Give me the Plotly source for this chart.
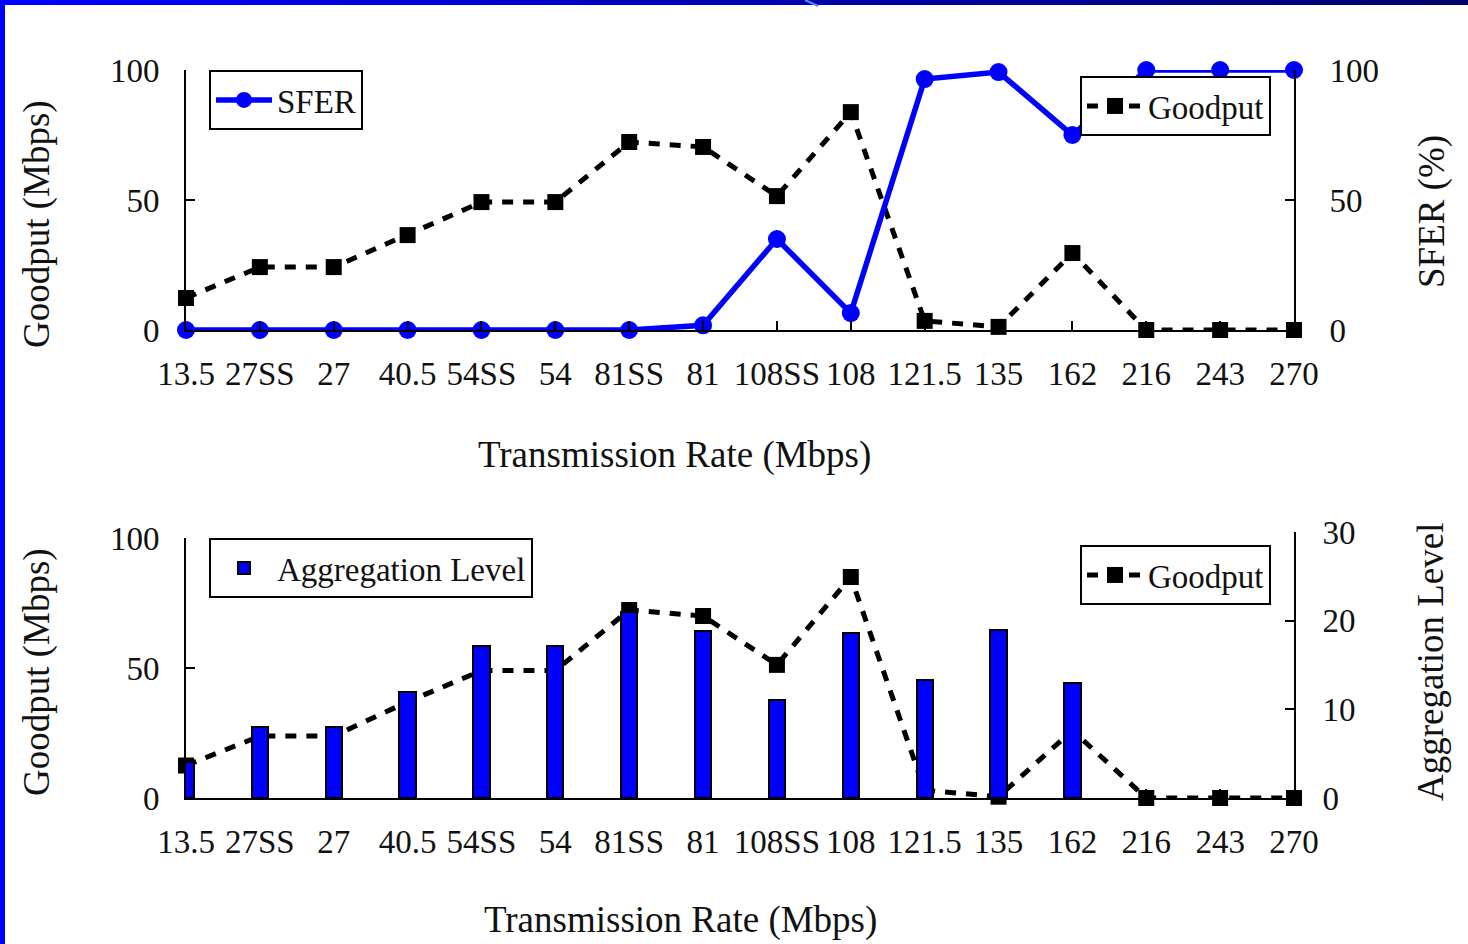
import plotly.graph_objects as go

W, H = 1468, 944

rates = ["13.5", "27SS", "27", "40.5", "54SS", "54", "81SS", "81", "108SS",
         "108", "121.5", "135", "162", "216", "243", "270"]
goodput_top = [12.3, 24.2, 24.2, 36.5, 49.2, 49.2, 72.3, 70.4, 51.5,
               83.8, 3.5, 1.2, 29.6, 0, 0, 0]
sfer = [0, 0, 0, 0, 0, 0, 0, 1.8, 35, 6.5, 96.5, 99.2, 75, 100, 100, 100]
goodput_bottom = [12.5, 23.8, 23.8, 37.0, 49.0, 49.0, 72.3, 70.0, 51.2,
                  85.0, 3.0, 0.5, 26.0, 0, 0, 0]
aggregation = [4.1, 8.0, 8.0, 12.0, 17.1, 17.1, 21.0, 18.8, 11.1,
               18.6, 13.3, 19.0, 13.0, 0, 0, 0]

FONT = "Liberation Serif"
BLUE = "#0000FF"
INK = "#111111"


def fx(px):
    return px / W


def fy(py):
    return 1 - py / H


fig = go.Figure()

# ---- top chart ----
fig.add_trace(go.Scatter(
    x=rates, y=goodput_top, name="Goodput", xaxis="x", yaxis="y",
    mode="lines+markers", legend="legend2",
    line=dict(color="black", width=5, dash="11px,10px"),
    marker=dict(symbol="square", size=16, color="black"),
    cliponaxis=False,
))
fig.add_trace(go.Scatter(
    x=rates, y=sfer, name="SFER", xaxis="x", yaxis="y2",
    mode="lines+markers", legend="legend",
    line=dict(color=BLUE, width=5.5),
    marker=dict(symbol="circle", size=18, color=BLUE),
    cliponaxis=False,
))

# ---- bottom chart ----
fig.add_trace(go.Scatter(
    x=rates, y=goodput_bottom, name="Goodput", xaxis="x2", yaxis="y3",
    mode="lines+markers", legend="legend4",
    line=dict(color="black", width=5, dash="11px,10px"),
    marker=dict(symbol="square", size=16, color="black"),
    cliponaxis=False,
))
fig.add_trace(go.Bar(
    x=rates, y=aggregation, name="Aggregation Level", xaxis="x2", yaxis="y4",
    legend="legend3", width=0.22,
    marker=dict(color=BLUE, line=dict(color="black", width=2)),
    cliponaxis=False,
))

tickfont = dict(family=FONT, size=33, color=INK)
axis_common = dict(
    showline=True, linecolor="black", linewidth=2, ticks="inside",
    tickcolor="black", tickwidth=2, ticklen=9, showgrid=False,
    zeroline=False, tickfont=tickfont, automargin=False,
)

xdom = [fx(186), fx(1294)]
fig.update_layout(
    width=W, height=H,
    margin=dict(l=0, r=0, t=0, b=0, pad=0, autoexpand=False),
    paper_bgcolor="white", plot_bgcolor="rgba(0,0,0,0)",
    bargap=0,
    xaxis=dict(domain=xdom, anchor="y", type="category",
               categoryorder="array", categoryarray=rates,
               range=[0, 15], ticklabelstandoff=13, **axis_common),
    yaxis=dict(domain=[fy(330), fy(70)], anchor="x", range=[0, 100],
               tickvals=[0, 50, 100], ticklabelstandoff=18, **axis_common),
    yaxis2=dict(overlaying="y", side="right", anchor="x", range=[0, 100],
                tickvals=[0, 50, 100], ticklabelstandoff=27, **axis_common),
    xaxis2=dict(domain=xdom, anchor="y3", type="category",
                categoryorder="array", categoryarray=rates,
                range=[0, 15], ticklabelstandoff=13, **axis_common),
    yaxis3=dict(domain=[fy(798), fy(538)], anchor="x2", range=[0, 100],
                tickvals=[0, 50, 100], ticklabelstandoff=18, **axis_common),
    yaxis4=dict(domain=[fy(798), fy(532)], anchor="x2", side="right",
                range=[0, 30], tickvals=[0, 10, 20, 30],
                ticklabelstandoff=20, **axis_common),
    showlegend=True,
)

leg_common = dict(bgcolor="white", bordercolor="black", borderwidth=2,
                  font=dict(family=FONT, size=33, color=INK),
                  itemwidth=56, itemclick=False, itemdoubleclick=False)
fig.update_layout(
    legend=dict(x=fx(209), y=fy(70), xanchor="left", yanchor="top", **leg_common),
    legend2=dict(x=fx(1271), y=fy(76), xanchor="right", yanchor="top", **leg_common),
    legend3=dict(x=fx(209), y=fy(538), xanchor="left", yanchor="top", **leg_common),
    legend4=dict(x=fx(1271), y=fy(545), xanchor="right", yanchor="top", **leg_common),
)

titlefont = dict(family=FONT, size=37, color=INK)
annos = [
    ("Goodput (Mbps)", 37, 224, -90),
    ("SFER (%)", 1432, 212, -90),
    ("Transmission Rate (Mbps)", 674, 455, 0),
    ("Goodput (Mbps)", 37, 672, -90),
    ("Aggregation Level", 1430, 662, -90),
    ("Transmission Rate (Mbps)", 680, 920, 0),
]
for text, px, py, ang in annos:
    fig.add_annotation(text=text, x=fx(px), y=fy(py), xref="paper", yref="paper",
                       xanchor="center", yanchor="middle", showarrow=False,
                       textangle=ang, font=titlefont)

# slide frame: blue gradient strip on top and blue strip on left
n = 30
shapes = []
for i in range(n):
    t = i / (n - 1)
    r, g, b = 0, 0, int(255 - t * (255 - 112))
    shapes.append(dict(type="rect", xref="paper", yref="paper",
                       x0=i / n, x1=(i + 1) / n + 0.001, y0=fy(5), y1=1,
                       line=dict(width=0), fillcolor=f"rgb({r},{g},{b})", layer="above"))
shapes.append(dict(type="rect", xref="paper", yref="paper", x0=0, x1=fx(5),
                   y0=0, y1=1, line=dict(width=0), fillcolor=BLUE, layer="above"))
shapes.append(dict(type="line", xref="paper", yref="paper", x0=fx(805), y0=1,
                   x1=fx(818), y1=fy(6), line=dict(color="#4f8fff", width=2),
                   layer="above"))
fig.update_layout(shapes=shapes)

fig.write_html("out.html")
